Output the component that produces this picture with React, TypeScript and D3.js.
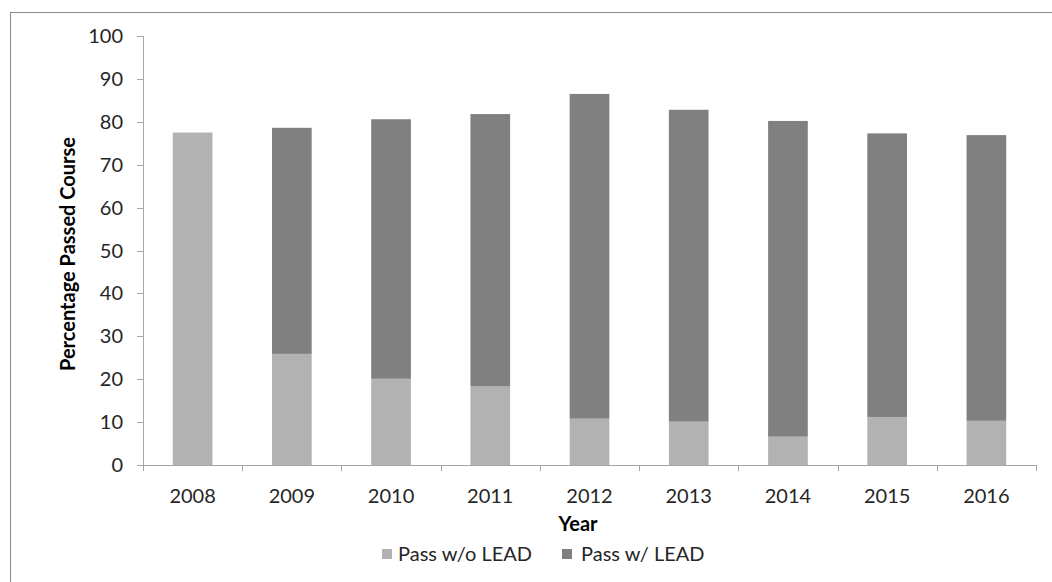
import * as d3 from 'd3'

const years = ['2008', '2009', '2010', '2011', '2012', '2013', '2014', '2015', '2016']
// share of students passing without LEAD
const passWithoutLead = [77.5, 25.9, 20.1, 18.3, 10.8, 10.1, 6.6, 11.2, 10.3]
// share passing with LEAD (stacked on top)
const passWithLead = [0, 52.7, 60.5, 63.5, 75.7, 72.7, 73.6, 66.1, 66.6]
const yTicks = [0, 10, 20, 30, 40, 50, 60, 70, 80, 90, 100]

const seriesNames = ['Pass w/o LEAD', 'Pass w/ LEAD']
const colors = ['#b2b2b2', '#808080']

const W = 1052
const H = 582
const left = 143
const right = 1036
const top = 36
const bottom = 465
const font = 'Lato, "Open Sans", sans-serif'

export default function App() {
  const x = d3.scaleBand().domain(years).range([left, right]).paddingInner(0.6).paddingOuter(0.3)
  const band = d3.scaleBand().domain(years).range([left, right])
  const y = d3.scaleLinear().domain([0, 100]).range([bottom, top])

  const rows = years.map((yr, i) => ({ year: yr, a: passWithoutLead[i], b: passWithLead[i] }))
  const stacked = d3.stack<any>().keys(['a', 'b'])(rows)

  const legendX = [382, 562]

  return (
    <svg width={W} height={H} style={{ position: 'absolute', left: 0, top: 0, background: '#fff' }}>
      <rect x={10.5} y={12.5} width={W + 20} height={H + 20} fill="#fff" stroke="#8a8a8a" />

      {stacked.map((s, si) => (
        <g key={si} fill={colors[si]}>
          {s.map((d, i) =>
            d[1] - d[0] > 0 ? (
              <rect key={i} x={x(years[i])} width={x.bandwidth()} y={y(d[1])} height={y(d[0]) - y(d[1])} />
            ) : null
          )}
        </g>
      ))}

      {/* axes */}
      <g stroke="#a6a6a6" fill="none">
        <line x1={left + 0.5} x2={left + 0.5} y1={top} y2={bottom} />
        {yTicks.map((t) => (
          <line key={t} x1={left - 6} x2={left} y1={Math.round(y(t)) + 0.5} y2={Math.round(y(t)) + 0.5} />
        ))}
        <line x1={left} x2={right} y1={bottom + 0.5} y2={bottom + 0.5} />
        {[...years.map((yr) => band(yr)!), right].map((v, i) => (
          <line key={i} x1={Math.round(v) + 0.5} x2={Math.round(v) + 0.5} y1={bottom} y2={bottom + 6} />
        ))}
      </g>

      <g fontFamily={font} fontSize={20} fill="#262626">
        {yTicks.map((t) => (
          <text key={t} x={left - 20} y={y(t)} dy="0.35em" textAnchor="end">
            {t}
          </text>
        ))}
        {years.map((yr) => (
          <text key={yr} x={band(yr)! + band.bandwidth() / 2} y={496} dy="0.35em" textAnchor="middle">
            {yr}
          </text>
        ))}
      </g>

      <text
        transform={`translate(68,254) rotate(-90)`}
        textAnchor="middle"
        dy="0.35em"
        fontFamily={font}
        fontSize={20}
        fontWeight="bold"
        fill="#000"
      >
        Percentage Passed Course
      </text>
      <text x={578} y={524} dy="0.35em" textAnchor="middle" fontFamily={font} fontSize={20} fontWeight="bold" fill="#000">
        Year
      </text>

      <g fontFamily={font} fontSize={20} fill="#262626">
        {seriesNames.map((n, i) => (
          <g key={n}>
            <rect x={legendX[i]} y={549} width={10} height={10} fill={colors[i]} />
            <text x={legendX[i] + (i === 0 ? 16 : 19)} y={554} dy="0.35em">
              {n}
            </text>
          </g>
        ))}
      </g>
    </svg>
  )
}
